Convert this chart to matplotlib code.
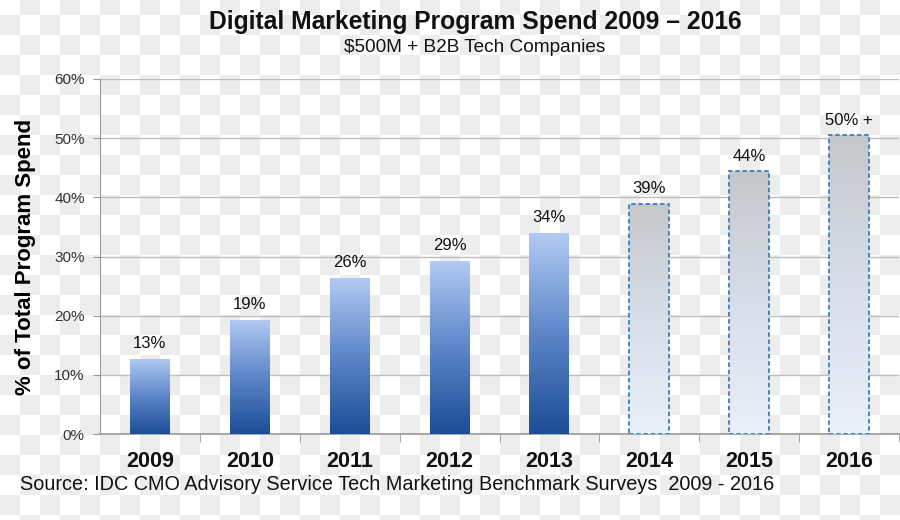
import numpy as np
import matplotlib
matplotlib.use("Agg")
import matplotlib.pyplot as plt
from matplotlib.colors import LinearSegmentedColormap

years = ["2009", "2010", "2011", "2012", "2013", "2014", "2015", "2016"]
values = [12.7, 19.3, 26.4, 29.3, 34.0, 38.9, 44.4, 50.5]
labels = ["13%", "19%", "26%", "29%", "34%", "39%", "44%", "50% +"]
forecast = [False, False, False, False, False, True, True, True]
yticks = [0, 10, 20, 30, 40, 50, 60]
ytick_labels = ["0%", "10%", "20%", "30%", "40%", "50%", "60%"]

plt.rcParams['font.family'] = ['Liberation Sans', 'DejaVu Sans']

W, H = 900, 520
fig = plt.figure(figsize=(9, 5.2), dpi=100, facecolor="white")

# checkered background
bg_ax = fig.add_axes([0, 0, 1, 1], zorder=-5)
yy, xx = np.mgrid[0:H, 0:W]
chk = (((xx // 20) + ((yy + 5) // 20)) % 2).astype(float)
bg = np.ones((H, W, 3))
bg[chk == 1] = 0.933
bg_ax.imshow(bg, origin="upper", extent=[0, W, H, 0], aspect="auto", interpolation="nearest")
bg_ax.set_axis_off()

ax = fig.add_axes([100 / W, (520 - 434) / H, 799 / W, (434 - 79) / H], zorder=1)
ax.set_facecolor("none")

x = np.arange(len(years))
bars = ax.bar(x, values, width=0.4, color="none", edgecolor="none", zorder=3)

actual_cmap = LinearSegmentedColormap.from_list("act", ["#1c4d96", "#5d86c9", "#b2cbf3"])
fc_cmap = LinearSegmentedColormap.from_list("fc", ["#eaf0fa", "#d7deea", "#c6c7ca"])
grad = np.linspace(0, 1, 256).reshape(-1, 1)

for b, fc in zip(bars, forecast):
    x0, y0 = b.get_x(), b.get_y()
    w, h = b.get_width(), b.get_height()
    im = ax.imshow(grad, cmap=fc_cmap if fc else actual_cmap, origin="lower",
                   extent=[x0, x0 + w, y0, y0 + h], aspect="auto", zorder=3)
    im.set_clip_path(b)
    if fc:
        b.set_edgecolor("#3a7fc0")
        b.set_linestyle((0, (2.5, 1.5)))
        b.set_linewidth(1.3)
        b.set_zorder(4)

for xi, v, lab in zip(x, values, labels):
    ax.text(xi, v + 1.3, lab, ha="center", va="bottom", fontsize=12, color="#111111", zorder=5)

ax.set_xlim(-0.5, len(years) - 0.5)
ax.set_ylim(0, 60)
ax.set_yticks(yticks)
ax.set_yticklabels(ytick_labels, fontsize=11, color="#333333")
ax.set_xticks(x)
ax.set_xticklabels(years, fontsize=15.5, fontweight="bold", color="#111111")
ax.tick_params(axis="x", length=0, pad=12)
ax.set_xticks(np.arange(0.5, len(years), 1.0), minor=True)
ax.tick_params(axis="x", which="minor", length=6, color="#999999", direction="out")
ax.tick_params(axis="y", length=5, color="#999999", pad=6)
ax.yaxis.grid(True, color="#bdbdbd", linewidth=1.0, zorder=1)
ax.set_axisbelow(True)
for s in ["top", "right"]:
    ax.spines[s].set_visible(False)
ax.spines["left"].set_color("#999999")
ax.spines["bottom"].set_color("#999999")
ax.spines["bottom"].set_linewidth(1.2)

ax.set_ylabel("% of Total Program Spend", fontsize=16, fontweight="bold", labelpad=13)

fig.text(475 / W, 1 - 22 / H, "Digital Marketing Program Spend 2009 \u2013 2016",
         ha="center", va="center", fontsize=17.7, fontweight="bold", color="#111111")
fig.text(475 / W, 1 - 48 / H, "$500M + B2B Tech Companies",
         ha="center", va="center", fontsize=13.7, color="#111111")
fig.text(20 / W, 1 - 484 / H, "Source: IDC CMO Advisory Service Tech Marketing Benchmark Surveys  2009 - 2016",
         ha="left", va="center", fontsize=14.3, color="#111111")

fig.savefig("out.png", dpi=100, facecolor="white")
